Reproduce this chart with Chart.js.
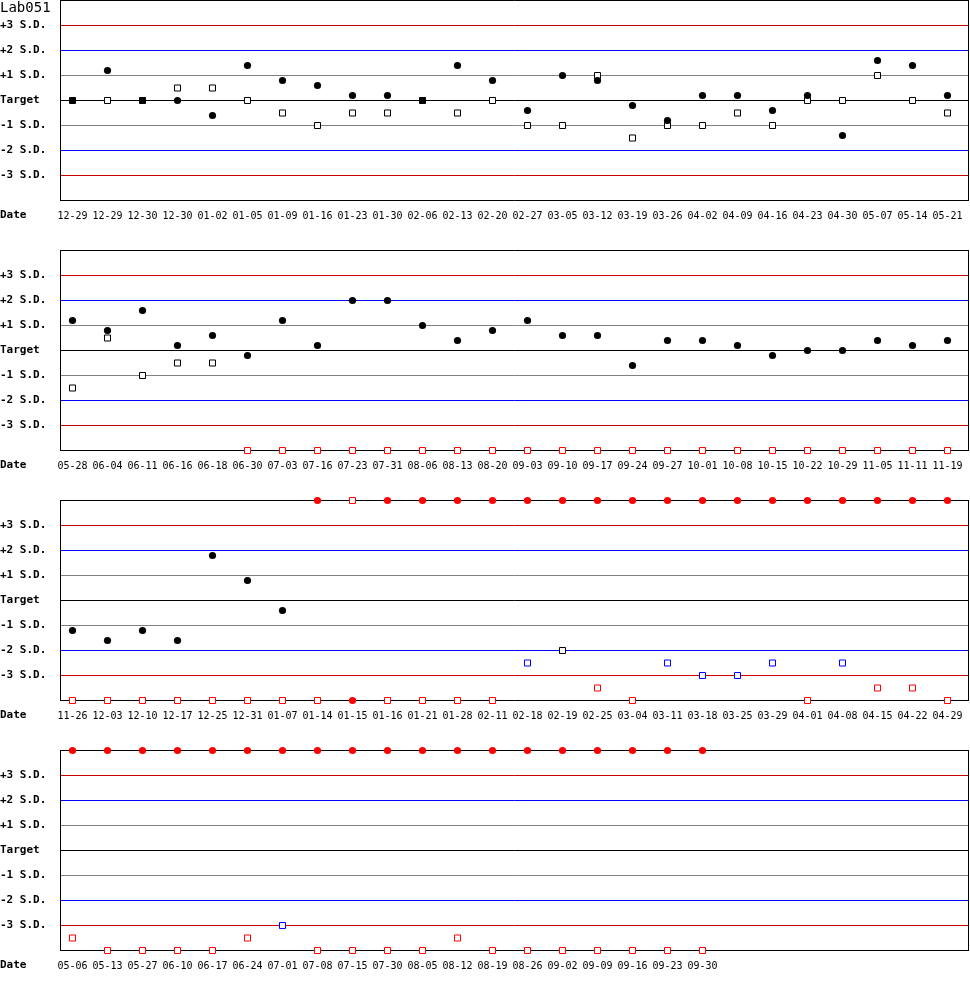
<!DOCTYPE html>
<html>
<head>
<meta charset="utf-8">
<title>Lab051</title>
<script src="https://cdn.jsdelivr.net/npm/chart.js@4.4.1/dist/chart.umd.min.js"></script>
<style>
    body { margin: 0; background: #fff; }
    /* each canvas reaches 8px up into the panel above so marks on the top edge aren't cut */
    canvas { display: block; margin-top: -8px; }
</style>
</head>
<body>
<canvas id="panel1" width="970" height="258"></canvas>
<canvas id="panel2" width="970" height="258"></canvas>
<canvas id="panel3" width="970" height="258"></canvas>
<canvas id="panel4" width="970" height="258"></canvas>
<script>
// values are in S.D. from target; 4 / -4 = off the chart (drawn on the frame)
const panel1Dates = ['12-29', '12-29', '12-30', '12-30', '01-02', '01-05', '01-09', '01-16', '01-23', '01-30', '02-06', '02-13', '02-20',
    '02-27', '03-05', '03-12', '03-19', '03-26', '04-02', '04-09', '04-16', '04-23', '04-30', '05-07', '05-14', '05-21'];
const panel1Level1 = [0, 1.2, 0, 0, -0.6, 1.4, 0.8, 0.6, 0.2, 0.2, 0, 1.4, 0.8, -0.4, 1.0, 0.8, -0.2, -0.8, 0.2, 0.2, -0.4, 0.2, -1.4, 1.6, 1.4, 0.2];
const panel1Level2 = [0, 0, 0, 0.5, 0.5, 0, -0.5, -1, -0.5, -0.5, 0, -0.5, 0, -1, -1, 1.0, -1.5, -1, -1, -0.5, -1, 0, 0, 1.0, 0, -0.5];

const panel2Dates = ['05-28', '06-04', '06-11', '06-16', '06-18', '06-30', '07-03', '07-16', '07-23', '07-31', '08-06', '08-13', '08-20',
    '09-03', '09-10', '09-17', '09-24', '09-27', '10-01', '10-08', '10-15', '10-22', '10-29', '11-05', '11-11', '11-19'];
const panel2Level1 = [1.2, 0.8, 1.6, 0.2, 0.6, -0.2, 1.2, 0.2, 2.0, 2.0, 1.0, 0.4, 0.8, 1.2, 0.6, 0.6, -0.6, 0.4, 0.4, 0.2, -0.2, 0, 0, 0.4, 0.2, 0.4];
const panel2Level2 = [-1.5, 0.5, -1, -0.5, -0.5, -4, -4, -4, -4, -4, -4, -4, -4, -4, -4, -4, -4, -4, -4, -4, -4, -4, -4, -4, -4, -4];

const panel3Dates = ['11-26', '12-03', '12-10', '12-17', '12-25', '12-31', '01-07', '01-14', '01-15', '01-16', '01-21', '01-28', '02-11',
    '02-18', '02-19', '02-25', '03-04', '03-11', '03-18', '03-25', '03-29', '04-01', '04-08', '04-15', '04-22', '04-29'];
const panel3Level1 = [-1.2, -1.6, -1.2, -1.6, 1.8, 0.8, -0.4, 4, -4, 4, 4, 4, 4, 4, 4, 4, 4, 4, 4, 4, 4, 4, 4, 4, 4, 4];
const panel3Level2 = [-4, -4, -4, -4, -4, -4, -4, -4, 4, -4, -4, -4, -4, -2.5, -2.0, -3.5, -4, -2.5, -3, -3, -2.5, -4, -2.5, -3.5, -3.5, -4];

const panel4Dates = ['05-06', '05-13', '05-27', '06-10', '06-17', '06-24', '07-01', '07-08', '07-15', '07-30', '08-05', '08-12', '08-19',
    '08-26', '09-02', '09-09', '09-16', '09-23', '09-30'];
const panel4Level1 = [4, 4, 4, 4, 4, 4, 4, 4, 4, 4, 4, 4, 4, 4, 4, 4, 4, 4, 4];
const panel4Level2 = [-3.5, -4, -4, -4, -4, -3.5, -3, -4, -4, -4, -4, -3.5, -4, -4, -4, -4, -4, -4, -4];

const sdTicks = [-4, -3, -2, -1, 0, 1, 2, 3, 4];
const sdNames = ['', '-3 S.D.', '-2 S.D.', '-1 S.D.', 'Target', '+1 S.D.', '+2 S.D.', '+3 S.D.', ''];

const MONO = "'DejaVu Sans Mono', 'Liberation Mono', monospace";

function pointColor(v) {
    const a = Math.abs(v);
    if (a > 3) return '#ff0000';
    if (a > 2) return '#0000ff';
    return '#000000';
}

function lineColor(v) {
    const a = Math.abs(v);
    if (a === 3) return '#cc0000';
    if (a === 2) return '#0000ff';
    if (a === 1) return '#808080';
    return '#000000';
}

// no extra room for half-labels sticking out past the plot
function noScalePadding(scale) {
    scale.paddingTop = 0;
    scale.paddingBottom = 0;
    scale.paddingLeft = 0;
    scale.paddingRight = 0;
}

// left/right sides of the box plus the "Date" and title texts
const framePlugin = {
    id: 'frame',
    beforeDatasetsDraw(chart) {
        const { ctx, chartArea: a } = chart;
        ctx.save();
        ctx.strokeStyle = '#000';
        ctx.lineWidth = 1;
        ctx.beginPath();
        const l = Math.floor(a.left) + 0.5;
        const r = Math.floor(a.right) + 0.5;
        ctx.moveTo(l, Math.floor(a.top));
        ctx.lineTo(l, Math.floor(a.bottom) + 1);
        ctx.moveTo(r, Math.floor(a.top));
        ctx.lineTo(r, Math.floor(a.bottom) + 1);
        ctx.stroke();
        ctx.restore();
    },
    afterDraw(chart, args, opts) {
        const { ctx, chartArea: a } = chart;
        ctx.save();
        ctx.fillStyle = '#000';
        ctx.textBaseline = 'middle';
        ctx.textAlign = 'left';
        ctx.font = 'bold 11px ' + MONO;
        ctx.fillText('Date', 0, a.bottom + 15);
        if (opts.title) {
            ctx.font = '14px ' + MONO;
            ctx.fillText(opts.title, 0, a.top + 7.5);
        }
        ctx.restore();
    }
};

function drawPanel(id, dates, level1, level2, title) {
    const ctx = document.getElementById(id).getContext('2d');
    new Chart(ctx, {
        type: 'scatter',
        data: {
            datasets: [{
                label: 'Level 1',
                data: level1.map((v, i) => ({ x: i, y: v })),
                pointStyle: 'circle',
                pointRadius: 3.6,
                pointBorderWidth: 0,
                pointBackgroundColor: (c) => pointColor(c.raw ? c.raw.y : 0),
                pointBorderColor: (c) => pointColor(c.raw ? c.raw.y : 0),
                clip: false
            }, {
                label: 'Level 2',
                data: level2.map((v, i) => ({ x: i, y: v })),
                pointStyle: 'rect',
                pointRadius: 4.25,
                pointBorderWidth: 1,
                pointBackgroundColor: '#ffffff',
                pointBorderColor: (c) => pointColor(c.raw ? c.raw.y : 0),
                clip: false
            }]
        },
        options: {
            responsive: false,
            devicePixelRatio: 1,
            animation: false,
            events: [],
            layout: {
                autoPadding: false,
                padding: { top: 8.5, right: 1.5, left: 0, bottom: 0 }
            },
            plugins: {
                legend: { display: false },
                tooltip: { enabled: false },
                frame: { title: title }
            },
            scales: {
                x: {
                    type: 'linear',
                    min: -12.5 / 35,
                    max: 25.6,
                    afterBuildTicks: (scale) => {
                        scale.ticks = dates.map((d, i) => ({ value: i }));
                    },
                    afterFit: (scale) => {
                        scale.height = 49.5;
                        noScalePadding(scale);
                    },
                    grid: { display: false, drawTicks: false },
                    border: { display: false },
                    ticks: {
                        autoSkip: false,
                        maxRotation: 0,
                        padding: 10,
                        color: '#000',
                        font: { family: MONO, size: 10 },
                        callback: (value, index) => dates[index]
                    }
                },
                y: {
                    min: -4,
                    max: 4,
                    afterBuildTicks: (scale) => {
                        scale.ticks = sdTicks.map((v) => ({ value: v }));
                    },
                    afterFit: (scale) => {
                        scale.width = 60;
                        noScalePadding(scale);
                    },
                    grid: {
                        drawTicks: false,
                        lineWidth: 1,
                        color: (c) => lineColor(c.tick ? c.tick.value : 0)
                    },
                    border: { display: false },
                    ticks: {
                        crossAlign: 'far',
                        padding: 0,
                        color: '#000',
                        font: { family: MONO, size: 11, weight: 'bold' },
                        callback: (value, index) => sdNames[index]
                    }
                }
            }
        },
        plugins: [framePlugin]
    });
}

drawPanel('panel1', panel1Dates, panel1Level1, panel1Level2, 'Lab051');
drawPanel('panel2', panel2Dates, panel2Level1, panel2Level2, '');
drawPanel('panel3', panel3Dates, panel3Level1, panel3Level2, '');
drawPanel('panel4', panel4Dates, panel4Level1, panel4Level2, '');
</script>
</body>
</html>
